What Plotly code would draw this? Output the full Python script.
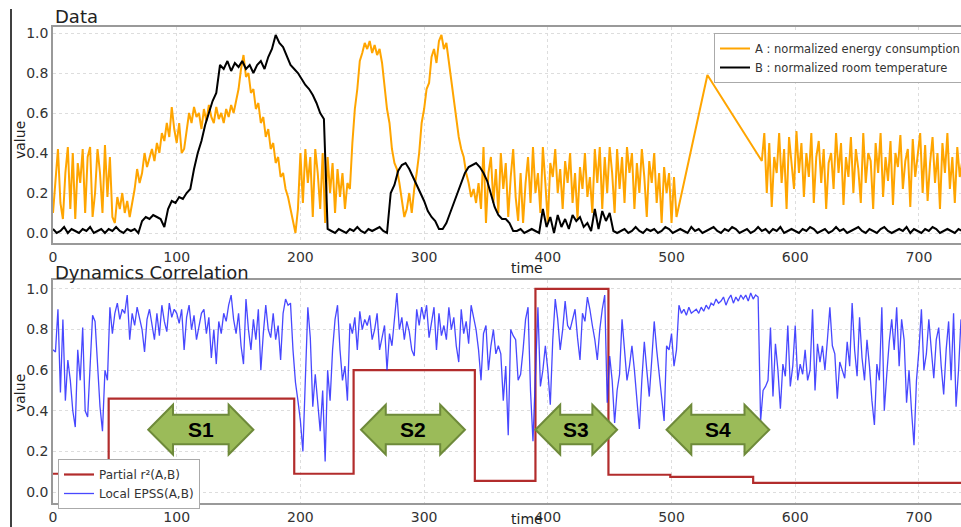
import plotly.graph_objects as go

# ---------------- data ----------------
# A : normalized energy consumption (sampled every 2 time units from t=0)
A_SEG1 = [
    0.10, 0.27, 0.42, 0.15, 0.07, 0.30, 0.43, 0.12, 0.40, 0.07,
    0.35, 0.25, 0.42, 0.10, 0.38, 0.43, 0.08, 0.20, 0.42, 0.30,
    0.10, 0.44, 0.18, 0.38,
    0.08, 0.05, 0.18, 0.12, 0.20, 0.10, 0.16, 0.08, 0.15,
    0.22, 0.32, 0.25, 0.30, 0.40, 0.33, 0.38, 0.42, 0.36, 0.45,
    0.40, 0.50, 0.46, 0.55, 0.48, 0.63, 0.52,
    0.45, 0.55, 0.40, 0.42, 0.50,
    0.60, 0.55, 0.63, 0.58, 0.60, 0.52, 0.62, 0.56, 0.64, 0.58,
    0.55, 0.63, 0.57, 0.60, 0.55, 0.62, 0.58, 0.64, 0.60, 0.66,
    0.72, 0.82, 0.89, 0.78, 0.80, 0.70, 0.72, 0.62, 0.65, 0.55,
    0.58, 0.48, 0.52, 0.42, 0.45, 0.35, 0.38, 0.28, 0.30, 0.22,
    0.18, 0.12, 0.05, 0.00, 0.12,
    0.40, 0.15, 0.42, 0.25, 0.38, 0.08, 0.42, 0.30, 0.12, 0.40,
    0.05, 0.38, 0.20, 0.35, 0.10, 0.32, 0.18, 0.30, 0.12, 0.25,
    0.22, 0.45, 0.62, 0.72, 0.86, 0.90, 0.95, 0.92, 0.96, 0.90,
    0.94, 0.89, 0.92, 0.85, 0.72, 0.62, 0.55, 0.42, 0.35, 0.32,
    0.25, 0.15, 0.08, 0.12, 0.20, 0.10, 0.22, 0.30, 0.40, 0.55,
    0.62, 0.72, 0.75, 0.88, 0.92, 0.85, 0.96, 0.99, 0.92, 0.95,
    0.85, 0.77, 0.68, 0.55, 0.48, 0.42, 0.38, 0.30, 0.25, 0.18,
    0.22, 0.15, 0.25, 0.12, 0.43,
    0.05, 0.30, 0.38, 0.15, 0.32, 0.10, 0.40, 0.22, 0.35, 0.08,
    0.28, 0.42, 0.18, 0.06, 0.30, 0.05, 0.25, 0.38, 0.15, 0.43,
    0.20, 0.30, 0.10, 0.43, 0.25, 0.05, 0.35, 0.28, 0.42, 0.20,
    0.32, 0.12, 0.36, 0.25, 0.40, 0.15, 0.30, 0.07, 0.33, 0.22,
    0.40, 0.18, 0.28, 0.10, 0.42, 0.25, 0.43, 0.12, 0.38, 0.20,
    0.43, 0.30, 0.10, 0.42, 0.22, 0.38, 0.15, 0.43, 0.30, 0.40,
    0.12, 0.35, 0.20, 0.42, 0.28, 0.08, 0.36, 0.25, 0.40, 0.15,
    0.30, 0.05, 0.33, 0.20, 0.30, 0.05, 0.28, 0.08,
]
A_GAP_T = [529]          # missing-data stretch drawn as straight line
A_GAP_V = [0.79]
A_SEG2_START = 573
A_SEG2 = [
    0.36, 0.50, 0.20, 0.45, 0.13, 0.38, 0.30, 0.50, 0.25, 0.42,
    0.12, 0.48, 0.35, 0.22, 0.51, 0.30, 0.45, 0.18, 0.40, 0.28,
    0.50, 0.15, 0.38, 0.46, 0.25, 0.42, 0.12, 0.35, 0.40, 0.22,
    0.50, 0.30, 0.45, 0.14, 0.38, 0.28, 0.48, 0.20, 0.42, 0.32,
    0.15, 0.50, 0.25, 0.40, 0.36, 0.12, 0.45, 0.30, 0.50, 0.18,
    0.38, 0.26, 0.46, 0.14, 0.40, 0.33, 0.49, 0.22, 0.36, 0.42,
    0.13, 0.47, 0.28, 0.38, 0.50, 0.20, 0.44, 0.16, 0.35, 0.48,
    0.25, 0.40, 0.12, 0.45, 0.30, 0.50, 0.22, 0.38, 0.15, 0.43,
    0.28, 0.36,
]
A_STEP = 2

# B : normalized room temperature (sampled every 3 time units from t=0)
B_VALUES = [
    0.02, 0.00, 0.01, 0.03, 0.00, 0.02, 0.01, 0.00, 0.02, 0.01,
    0.03, 0.00, 0.01, 0.02, 0.00, 0.02, 0.01, 0.03, 0.01, 0.00,
    0.02, 0.01, 0.02, 0.00,
    0.06, 0.08, 0.07, 0.09, 0.08, 0.07, 0.03, 0.12, 0.16, 0.15,
    0.18, 0.17, 0.20, 0.22,
    0.32, 0.40, 0.46, 0.54, 0.60, 0.66, 0.70, 0.84,
    0.82, 0.86, 0.81, 0.85, 0.83, 0.86, 0.82, 0.84, 0.80, 0.84,
    0.86, 0.82,
    0.88, 0.92, 0.99, 0.95, 0.93, 0.88, 0.84, 0.82, 0.80, 0.77,
    0.74, 0.72, 0.69, 0.65, 0.60, 0.57,
    0.02, 0.01, 0.00, 0.02, 0.01, 0.00, 0.02, 0.01, 0.03, 0.01,
    0.00, 0.02, 0.01, 0.02, 0.03, 0.01, 0.00,
    0.20, 0.24, 0.31, 0.34, 0.35, 0.32, 0.28, 0.24, 0.20, 0.16,
    0.11, 0.08, 0.06, 0.02,
    0.02, 0.05, 0.10, 0.15, 0.20, 0.26, 0.30, 0.33, 0.34, 0.35,
    0.33, 0.30, 0.26, 0.20, 0.13, 0.09, 0.07, 0.07, 0.05, 0.01,
    0.01, 0.02, 0.00, 0.01, 0.02, 0.01, 0.00,
    0.12, 0.03, 0.08, 0.00, 0.09, 0.03, 0.07, 0.02, 0.09, 0.06,
    0.08, 0.03, 0.05, 0.01, 0.12, 0.02, 0.11, 0.06, 0.10, 0.01,
    0.00,
    0.01, 0.02, 0.00, 0.01, 0.03, 0.01, 0.00, 0.02, 0.01, 0.02,
    0.00, 0.01, 0.03, 0.02, 0.00, 0.01, 0.02, 0.01, 0.00, 0.03,
    0.01, 0.02, 0.00, 0.01, 0.02, 0.03, 0.01, 0.00, 0.02, 0.01,
    0.03, 0.02, 0.00, 0.01, 0.02, 0.00, 0.01, 0.03, 0.01, 0.02,
    0.00, 0.02, 0.01, 0.03, 0.00, 0.01, 0.02, 0.01, 0.00, 0.02,
    0.01, 0.03, 0.02, 0.00, 0.01, 0.02, 0.00, 0.01, 0.03, 0.01,
    0.02, 0.00, 0.01, 0.02, 0.03, 0.01, 0.00, 0.02, 0.01, 0.00,
    0.02, 0.03, 0.01, 0.00, 0.01, 0.02, 0.01, 0.03, 0.00, 0.02,
    0.01, 0.00, 0.02, 0.01, 0.03, 0.02, 0.00, 0.01, 0.02, 0.01,
    0.00, 0.02, 0.01,
]
B_STEP = 3

# Local EPSS(A,B) (sampled every 2 time units from t=0)
EPSS_VALUES = [
    0.70, 0.69, 0.90, 0.49, 0.85, 0.45, 0.65, 0.55, 0.40, 0.32,
    0.70, 0.55, 0.81, 0.40, 0.37, 0.60, 0.87, 0.84, 0.60, 0.42,
    0.30, 0.60, 0.55, 0.91, 0.78, 0.88, 0.93, 0.85, 0.90, 0.88,
    0.97, 0.75, 0.88, 0.82, 0.91, 0.86, 0.80, 0.69, 0.85, 0.90,
    0.82, 0.75, 0.88, 0.77, 0.92, 0.84, 0.79, 0.93, 0.86, 0.90,
    0.88, 0.83, 0.90, 0.70, 0.86, 0.92, 0.80, 0.87, 0.75, 0.82,
    0.88, 0.90, 0.78, 0.86, 0.66, 0.80, 0.63, 0.84, 0.78, 0.88,
    0.84, 0.92, 0.97, 0.85, 0.78, 0.88, 0.72, 0.63, 0.95, 0.80,
    0.70, 0.85, 0.75, 0.90, 0.60, 0.78, 0.92, 0.80, 0.76, 0.88,
    0.75, 0.82, 0.65, 0.88, 0.95, 0.92, 0.93, 0.70, 0.54, 0.45,
    0.35, 0.20, 0.55, 0.91, 0.76, 0.42, 0.58, 0.45, 0.30, 0.50,
    0.15, 0.60, 0.45, 0.70, 0.85, 0.92, 0.70, 0.55, 0.62, 0.45,
    0.83, 0.78, 0.86, 0.70, 0.89, 0.80, 0.85, 0.82, 0.87, 0.75,
    0.80, 0.88, 0.70, 0.76, 0.82, 0.60, 0.78, 0.72, 0.85, 0.98,
    0.80, 0.86, 0.75, 0.84, 0.79, 0.70, 0.67, 0.90, 0.82, 0.91,
    0.85, 0.92, 0.76, 0.84, 0.91, 0.70, 0.88, 0.77, 0.82, 0.75,
    0.91, 0.80, 0.86, 0.72, 0.64, 0.90, 0.78, 0.84, 0.73, 0.92,
    0.85, 0.80, 0.70, 0.55, 0.78, 0.82, 0.60, 0.72, 0.80, 0.68,
    0.72, 0.68, 0.45, 0.62, 0.28, 0.80, 0.77, 0.75, 0.55, 0.58,
    0.70, 0.85, 0.91, 0.50, 0.25, 0.63, 0.91, 0.52, 0.60, 0.72,
    0.60, 0.43, 0.75, 0.95, 0.85, 0.70, 0.80, 0.94, 0.82, 0.80,
    0.85, 0.90, 0.76, 0.65, 0.88, 0.84, 0.96, 0.90, 0.82, 0.75,
    0.65, 0.80, 0.90, 0.97, 0.44, 0.67, 0.55, 0.34, 0.50, 0.58,
    0.85, 0.70, 0.55, 0.62, 0.72, 0.60, 0.47, 0.31, 0.55, 0.74,
    0.60, 0.47, 0.65, 0.84, 0.70, 0.58, 0.45, 0.35, 0.72, 0.70,
    0.78, 0.62, 0.70, 0.92, 0.88, 0.90, 0.87, 0.91, 0.88, 0.89,
    0.90, 0.88, 0.91, 0.89, 0.92, 0.90, 0.93, 0.92, 0.95, 0.93,
    0.94, 0.96, 0.92, 0.95, 0.97, 0.93, 0.96, 0.94, 0.97, 0.95,
    0.97, 0.94, 0.98, 0.95, 0.97, 0.96, 0.35, 0.50, 0.52, 0.55,
    0.81, 0.47, 0.73, 0.60, 0.41, 0.63, 0.57, 0.82, 0.52, 0.62,
    0.82, 0.55, 0.63, 0.58, 0.70, 0.55, 0.60, 0.90, 0.50, 0.73,
    0.64, 0.72, 0.60, 0.75, 0.91, 0.72, 0.68, 0.46, 0.64, 0.60,
    0.56, 0.74, 0.62, 0.93, 0.70, 0.57, 0.86, 0.66, 0.55, 0.75,
    0.62, 0.45, 0.33, 0.63, 0.55, 0.91, 0.40, 0.58, 0.74, 0.85,
    0.70, 0.91, 0.62, 0.85, 0.75, 0.44, 0.60, 0.40, 0.23, 0.55,
    0.70, 0.90, 0.60, 0.68, 0.85, 0.70, 0.56, 0.75, 0.81, 0.62,
    0.48, 0.70, 0.84, 0.55, 0.88, 0.42, 0.60, 0.85,
]
EPSS_STEP = 2

# Partial r^2(A,B) : piecewise-constant segments
R2_T = [0, 45, 195, 243, 341, 390, 449, 499, 566, 734]
R2_V = [0.09, 0.46, 0.09, 0.60, 0.055, 1.0, 0.085, 0.075, 0.045, 0.045]

# Segment markers (label, start, end)
SEG_LABELS = ["S1", "S2", "S3", "S4"]
SEG_START = [77, 249, 390, 496]
SEG_END = [162, 333, 456, 579]

X_TICKS = [0, 100, 200, 300, 400, 500, 600, 700]
Y_TICKS = [0.0, 0.2, 0.4, 0.6, 0.8, 1.0]

# ---------------- build ----------------
a_t = [i * A_STEP for i in range(len(A_SEG1))] + A_GAP_T + \
      [A_SEG2_START + i * A_STEP for i in range(len(A_SEG2))]
a_v = A_SEG1 + A_GAP_V + A_SEG2
b_t = [i * B_STEP for i in range(len(B_VALUES))]
e_t = [i * EPSS_STEP for i in range(len(EPSS_VALUES))]

FONT = "DejaVu Sans"
fig = go.Figure()

fig.add_trace(go.Scatter(x=a_t, y=a_v, mode="lines", name="A : normalized energy consumption",
                         line=dict(color="#FFA500", width=2), xaxis="x", yaxis="y", legend="legend"))
fig.add_trace(go.Scatter(x=b_t, y=B_VALUES, mode="lines", name="B : normalized room temperature",
                         line=dict(color="#000000", width=2), xaxis="x", yaxis="y", legend="legend"))
fig.add_trace(go.Scatter(x=R2_T, y=R2_V, mode="lines", name="Partial r²(A,B)",
                         line=dict(color="#B22C2C", width=2.2, shape="hv"),
                         xaxis="x2", yaxis="y2", legend="legend2"))
fig.add_trace(go.Scatter(x=e_t, y=EPSS_VALUES, mode="lines", name="Local EPSS(A,B)",
                         line=dict(color="rgba(40,40,255,0.85)", width=1.3),
                         xaxis="x2", yaxis="y2", legend="legend2"))

# segment double arrows
HEAD = 20
Y_TOP, Y_BOT, Y_SH_T, Y_SH_B, Y_C = 0.43, 0.185, 0.38, 0.235, 0.307
for lab, s, e in zip(SEG_LABELS, SEG_START, SEG_END):
    path = (f"M {s},{Y_C} L {s+HEAD},{Y_TOP} L {s+HEAD},{Y_SH_T} L {e-HEAD},{Y_SH_T} "
            f"L {e-HEAD},{Y_TOP} L {e},{Y_C} L {e-HEAD},{Y_BOT} L {e-HEAD},{Y_SH_B} "
            f"L {s+HEAD},{Y_SH_B} L {s+HEAD},{Y_BOT} Z")
    fig.add_shape(type="path", path=path, xref="x2", yref="y2",
                  fillcolor="#9BBB59", line=dict(color="#6E8A3A", width=2), layer="above")
    fig.add_annotation(x=(s + e) / 2, y=Y_C, xref="x2", yref="y2", text=f"<b>{lab}</b>",
                       showarrow=False, font=dict(family="Liberation Sans", size=21, color="black"))

W, H = 961, 527
axis_common = dict(showline=True, linecolor="#999999", linewidth=1.5, mirror=True,
                   showgrid=True, gridcolor="#DDDDDD", griddash="dot", gridwidth=1,
                   zeroline=False, ticks="", tickfont=dict(family=FONT, size=14, color="#333333"))

fig.update_layout(
    width=W, height=H, margin=dict(l=0, r=0, t=0, b=0, autoexpand=False),
    plot_bgcolor="white", paper_bgcolor="white",
    xaxis=dict(domain=[53 / W, 1.0], range=[0, 734], tickvals=X_TICKS, anchor="y", **axis_common),
    yaxis=dict(domain=[1 - 243 / H, 1 - 27 / H], range=[-0.05, 1.03], tickvals=Y_TICKS,
               tickformat=".1f", anchor="x", **axis_common),
    xaxis2=dict(domain=[53 / W, 1.0], range=[0, 734], tickvals=X_TICKS, anchor="y2", **axis_common),
    yaxis2=dict(domain=[1 - 503 / H, 1 - 280 / H], range=[-0.054, 1.044], tickvals=Y_TICKS,
                tickformat=".1f", anchor="x2", **axis_common),
    legend=dict(x=714 / W, y=1 - 33 / H, xanchor="left", yanchor="top", bgcolor="white",
                bordercolor="#AAAAAA", borderwidth=1, font=dict(family=FONT, size=11.5, color="#333"),
                tracegroupgap=0, itemwidth=30),
    legend2=dict(x=58 / W, y=1 - 459 / H, xanchor="left", yanchor="top", bgcolor="white",
                 bordercolor="#AAAAAA", borderwidth=1, font=dict(family=FONT, size=12, color="#333"),
                 tracegroupgap=0, itemwidth=30),
    showlegend=True,
)

# titles and axis labels
ann_font = dict(family=FONT, color="#222222")
fig.add_annotation(x=53 / W, y=1 - 29 / H, xref="paper", yref="paper", xanchor="left", yanchor="bottom",
                   text="Data", showarrow=False, font=dict(size=18, **ann_font))
fig.add_annotation(x=53 / W, y=1 - 285 / H, xref="paper", yref="paper", xanchor="left", yanchor="bottom",
                   text="Dynamics Correlation", showarrow=False, font=dict(size=18, **ann_font))
fig.add_annotation(x=527 / W, y=1 - 268 / H, xref="paper", yref="paper", text="time",
                   xanchor="center", yanchor="middle", showarrow=False, font=dict(size=14, **ann_font))
fig.add_annotation(x=527 / W, y=0, xref="paper", yref="paper", text="time",
                   xanchor="center", yanchor="bottom", yshift=-2, showarrow=False,
                   font=dict(size=14, **ann_font))
for yc in (140, 393):
    fig.add_annotation(x=20 / W, y=1 - yc / H, xref="paper", yref="paper", text="value",
                       xanchor="center", yanchor="middle",
                       textangle=-90, showarrow=False, font=dict(size=14, **ann_font))

# left border line of the figure
fig.add_shape(type="line", xref="paper", yref="paper", x0=11 / W, x1=11 / W, y0=0, y1=1 - 9 / H,
              line=dict(color="black", width=1.5))

fig.write_html("out.html", config={"displayModeBar": False},
               post_script="document.body.style.margin='0';document.body.style.overflow='hidden';")
